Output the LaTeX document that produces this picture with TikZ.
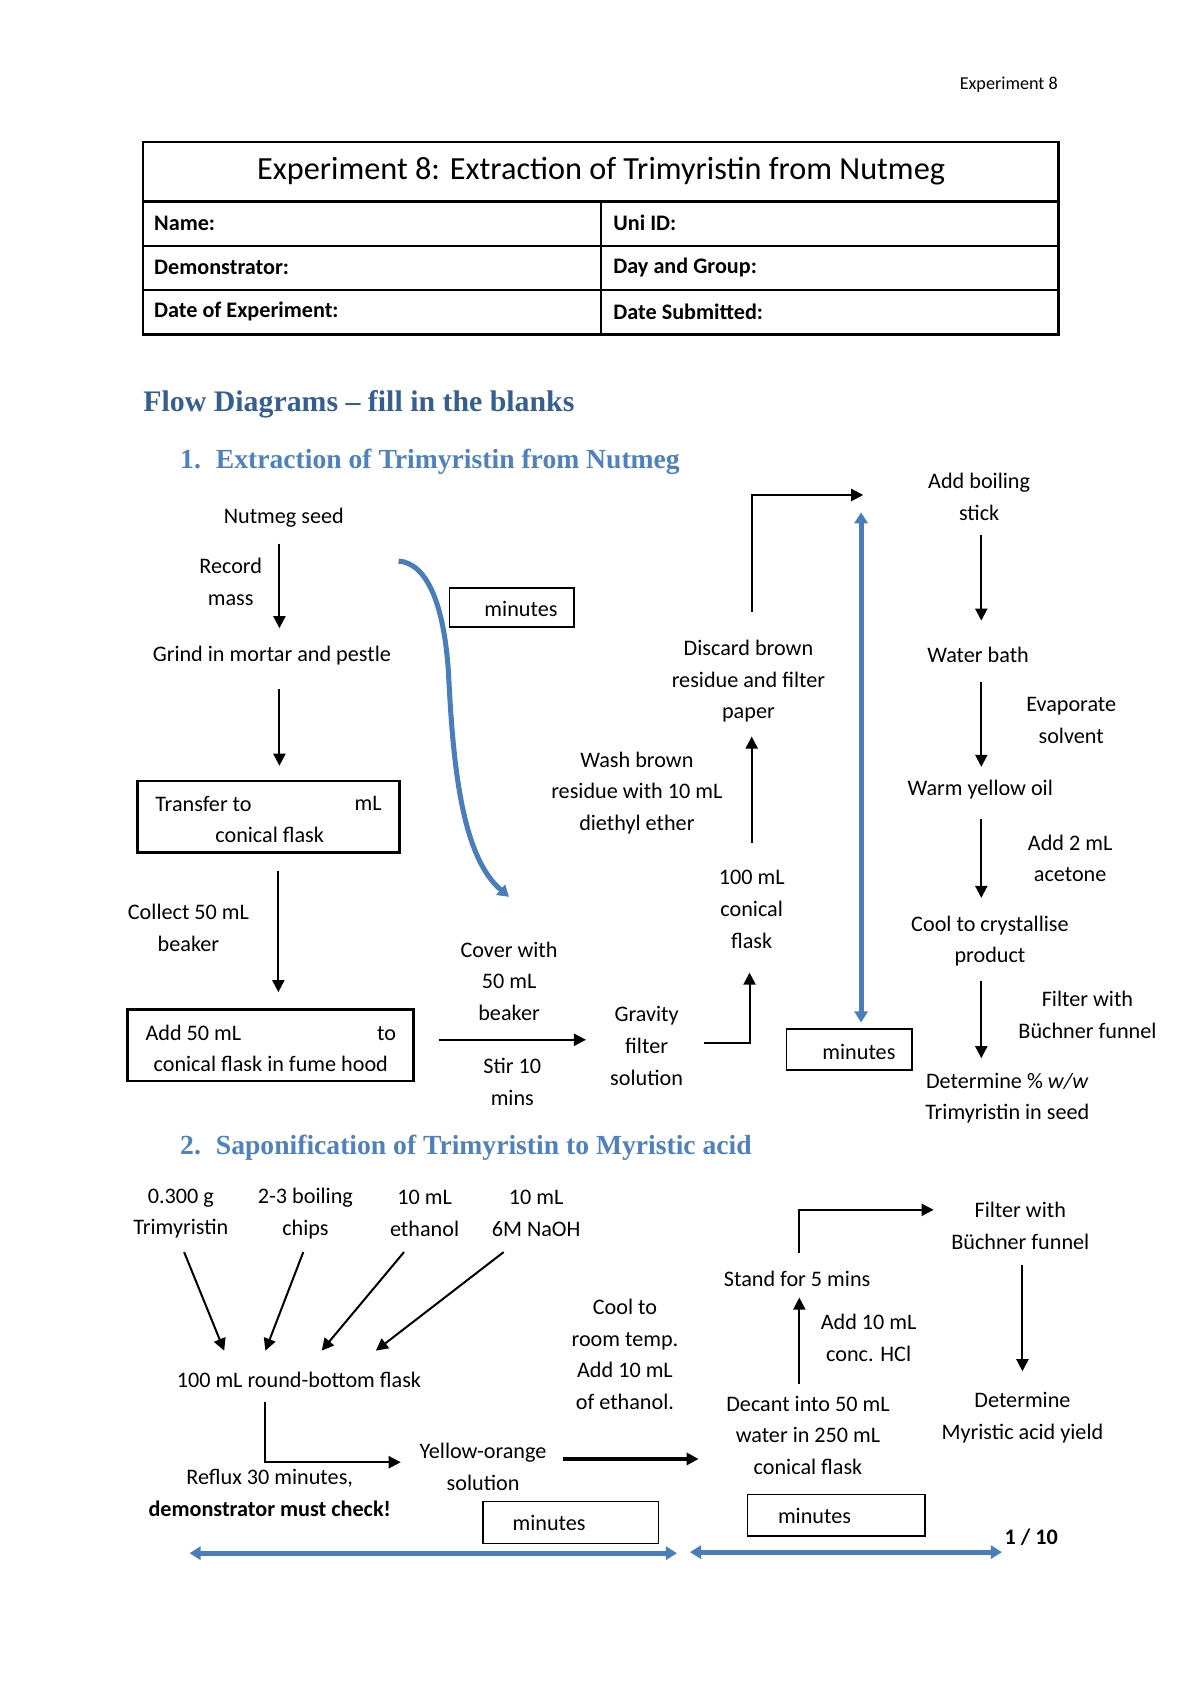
\documentclass[tikz,border=0pt]{standalone}
\usepackage{fontspec}
\setmainfont{Carlito}
\newfontfamily\headfont{Liberation Serif}
\usetikzlibrary{arrows.meta}
\definecolor{bluearrow}{HTML}{4A7EBB}
\definecolor{headblue}{HTML}{4F81BD}
\definecolor{darkblue}{HTML}{365F91}
\newcommand\bodyf{\fontsize{11pt}{15.7pt}\selectfont}
\newcommand\uu{0.5372pt}
\begin{document}
\begin{tikzpicture}[x=0.5372pt,y=-0.5372pt,
  txt/.style={align=center,inner sep=0pt,font=\bodyf},
  lt/.style={anchor=west,inner sep=0pt,font=\bodyf},
  tb/.style={anchor=west,inner sep=0pt,font=\bodyf\bfseries},
  arr/.style={-{Triangle[length=6pt,width=6pt]},line width=1pt},
  bluea/.style={{Triangle[length=5.5pt,width=6.5pt]}-{Triangle[length=5.5pt,width=6.5pt]},draw=bluearrow,line width=2.5pt},
  bluec/.style={-{Triangle[length=5.5pt,width=6.5pt]},draw=bluearrow,line width=2.5pt},
  bx/.style={draw,line width=1.3pt,inner sep=0pt},
  mbox/.style={draw,line width=0.7pt,inner sep=0pt},
  sect/.style={anchor=west,inner sep=0pt,font=\headfont\fontsize{13.7pt}{16pt}\selectfont\bfseries,text=headblue}]
\useasboundingbox (0,0) rectangle (1108.2,1567.7);
% header
\node[anchor=east,inner sep=0pt,font=\fontsize{9pt}{11pt}\selectfont] (hdr) at (977,78) {Experiment 8};
% table
\draw[line width=1.3pt] (132,131) rectangle (977,309);
\draw[line width=1.1pt] (132,186) -- (977,186);
\draw[line width=1.1pt] (132,227) -- (977,227);
\draw[line width=1.1pt] (132,268) -- (977,268);
\draw[line width=0.8pt] (555,186) -- (555,309);
\node[inner sep=0pt,font=\fontsize{16pt}{19pt}\selectfont] (title) at (555,158) {Experiment 8: Extraction of Trimyristin from Nutmeg};
\node[tb] (t1) at (142,206) {Name:};
\node[tb] (t2) at (566,206) {Uni ID:};
\node[tb] (t3) at (142,247) {Demonstrator:};
\node[tb] (t4) at (566,247) {Day and Group:};
\node[tb] (t5) at (142,288) {Date of Experiment:};
\node[tb] (t6) at (566,288) {Date Submitted:};
% headings
\node[anchor=west,inner sep=0pt,font=\headfont\fontsize{14.8pt}{17pt}\selectfont\bfseries,text=darkblue] (h0) at (132,373) {Flow Diagrams – fill in the blanks};
\coordinate (hx) at (166,0);
\node[sect] (h1) at (199,426) {Extraction of Trimyristin from Nutmeg};
\node[sect,anchor=base west] (h1n) at (h1.base -| hx) {1.};
\node[sect] (h2) at (199,1060) {Saponification of Trimyristin to Myristic acid};
\node[sect,anchor=base west] (h2n) at (h2.base -| hx) {2.};

% ---------- Section 1 ----------
\node[txt] (nutmeg) at (262,478) {Nutmeg seed};
\node[txt] (record) at (213,537.5) {Record\\mass};
\node[txt] (grind) at (251,605) {Grind in mortar and pestle};
\coordinate (a1s) at (258,502); \coordinate (a1e) at (258,580);
\draw[arr] (a1s) -- (a1e);
\coordinate (a2s) at (258,636); \coordinate (a2e) at (258,707);
\draw[arr] (a2s) -- (a2e);
\node[bx,minimum width=242*\uu,minimum height=66*\uu] (transfer) at (248,754) {};
\node[lt] (tr1) at (143,742) {Transfer to};
\node[lt] (tr2) at (327,742) {mL};
\node[txt] (tr3) at (249,771) {conical flask};
\coordinate (a3s) at (257,804); \coordinate (a3e) at (257,916);
\draw[arr] (a3s) -- (a3e);
\node[txt] (collect) at (174,856.5) {Collect 50 mL\\beaker};
\node[bx,minimum width=264*\uu,minimum height=66*\uu] (addbox) at (250,965) {};
\node[lt] (ad1) at (134,954) {Add 50 mL};
\node[anchor=east,inner sep=0pt,font=\bodyf] (ad2) at (366,954) {to};
\node[txt] (ad3) at (250,982) {conical flask in fume hood};
\coordinate (a4s) at (405,960); \coordinate (a4e) at (541,960);
\draw[arr] (a4s) -- (a4e);
\node[txt] (cover) at (470,906) {Cover with\\50 mL\\beaker};
\node[txt] (stir) at (473,999) {Stir 10\\mins};
\node[txt] (gravity) at (597,965.7) {Gravity\\filter\\solution};
\coordinate (a5s) at (650,963); \coordinate (a5e) at (692,898);
\draw[arr] (a5s) -| (a5e);
\node[txt] (flask) at (694,839.7) {100 mL\\conical\\flask};
\coordinate (a6s) at (694,778); \coordinate (a6e) at (694,680);
\draw[arr] (a6s) -- (a6e);
\node[txt] (wash) at (588,732) {Wash brown\\residue with 10 mL\\diethyl ether};
\node[txt] (discard) at (691,629) {Discard brown\\residue and filter\\paper};
\coordinate (a7s) at (694,565); \coordinate (a7e) at (797,457);
\draw[arr] (a7s) |- (a7e);
\coordinate (b1s) at (795,473); \coordinate (b1e) at (795,944);
\draw[bluea] (b1s) -- (b1e);
\node[mbox,minimum width=116*\uu,minimum height=38*\uu] (m1box) at (784,969) {};
\node[txt] (m1) at (793,971) {minutes};
\node[mbox,minimum width=115*\uu,minimum height=36*\uu] (m2box) at (472.5,561) {};
\node[txt] (m2) at (481,562) {minutes};
\coordinate (c0) at (368,518); \coordinate (c1) at (414,620); \coordinate (c2) at (470,828);
\draw[bluec] (c0) .. controls (395,520) and (410,560) .. (c1) .. controls (418,700) and (425,790) .. (c2);
\node[txt] (boil) at (904,459) {Add boiling\\stick};
\coordinate (a8s) at (906,494); \coordinate (a8e) at (906,573);
\draw[arr] (a8s) -- (a8e);
\node[txt] (water) at (903,605) {Water bath};
\coordinate (a9s) at (906,630); \coordinate (a9e) at (906,708);
\draw[arr] (a9s) -- (a9e);
\node[txt] (evap) at (989,665) {Evaporate\\solvent};
\node[txt] (warm) at (905,729) {Warm yellow oil};
\coordinate (a10s) at (906,756); \coordinate (a10e) at (906,829);
\draw[arr] (a10s) -- (a10e);
\node[txt] (acetone) at (988,792.5) {Add 2 mL\\acetone};
\node[txt] (cool) at (914,869) {Cool to crystallise\\product};
\coordinate (a11s) at (906,906); \coordinate (a11e) at (906,977);
\draw[arr] (a11s) -- (a11e);
\node[txt] (filter1) at (1004,937) {Filter with\\Büchner funnel};
\node[txt] (det1) at (930,1014) {Determine \% \textit{w/w}\\Trimyristin in seed};

% ---------- Section 2 ----------
\node[txt] (tri) at (167,1120.5) {0.300 g\\Trimyristin};
\node[txt] (chips) at (282,1120.5) {2-3 boiling\\chips};
\node[txt] (eth) at (392,1120.5) {10 mL\\ethanol};
\node[txt] (naoh) at (495,1120.5) {10 mL\\6M NaOH};
\node[txt] (rbf) at (276,1274) {100 mL round-bottom flask};
\coordinate (d1s) at (170,1156); \coordinate (d1e) at (207,1247);
\coordinate (d2s) at (280,1156); \coordinate (d2e) at (245,1247);
\coordinate (d3s) at (373,1156); \coordinate (d3e) at (297,1247);
\coordinate (d4s) at (465,1156); \coordinate (d4e) at (347,1247);
\draw[arr] (d1s) -- (d1e);
\draw[arr] (d2s) -- (d2e);
\draw[arr] (d3s) -- (d3e);
\draw[arr] (d4s) -- (d4e);
\coordinate (e1s) at (245,1294); \coordinate (e1e) at (370,1350);
\draw[arr] (e1s) |- (e1e);
\node[txt] (reflux) at (249,1378.5) {Reflux 30 minutes,\\\textbf{demonstrator must check!}};
\node[txt] (yellow) at (446,1354.5) {Yellow-orange\\solution};
\coordinate (e2s) at (520,1347); \coordinate (e2e) at (645,1347);
\draw[arr,line width=1.8pt] (e2s) -- (e2e);
\node[txt] (coolrt) at (577,1250.3) {Cool to\\room temp.\\Add 10 mL\\of ethanol.};
\node[mbox,minimum width=162*\uu,minimum height=39*\uu] (m3box) at (527,1405.5) {};
\node[txt] (m3) at (507,1406) {minutes};
\coordinate (b2s) at (175,1434); \coordinate (b2e) at (625,1434);
\draw[bluea] (b2s) -- (b2e);
\coordinate (b3s) at (637,1433); \coordinate (b3e) at (925,1433);
\draw[bluea] (b3s) -- (b3e);
\node[txt] (decant) at (746,1325) {Decant into 50 mL\\water in 250 mL\\conical flask};
\coordinate (e3s) at (738,1278); \coordinate (e3e) at (738,1198);
\draw[arr] (e3s) -- (e3e);
\node[txt] (hcl) at (802,1235) {Add 10 mL\\conc. HCl};
\node[txt] (stand) at (736,1181) {Stand for 5 mins};
\coordinate (e4s) at (738,1157); \coordinate (e4e) at (862,1117);
\draw[arr] (e4s) |- (e4e);
\node[txt] (filter2) at (942,1132) {Filter with\\Büchner funnel};
\coordinate (e5s) at (944,1168); \coordinate (e5e) at (944,1266);
\draw[arr] (e5s) -- (e5e);
\node[txt] (det2) at (944,1309) {Determine\\Myristic acid yield};
\node[mbox,minimum width=164*\uu,minimum height=38*\uu] (m4box) at (772,1399) {};
\node[txt] (m4) at (752,1400) {minutes};
\node[txt,font=\bodyf\bfseries] (page) at (952,1419) {1 / 10};
\end{tikzpicture}
\end{document}
